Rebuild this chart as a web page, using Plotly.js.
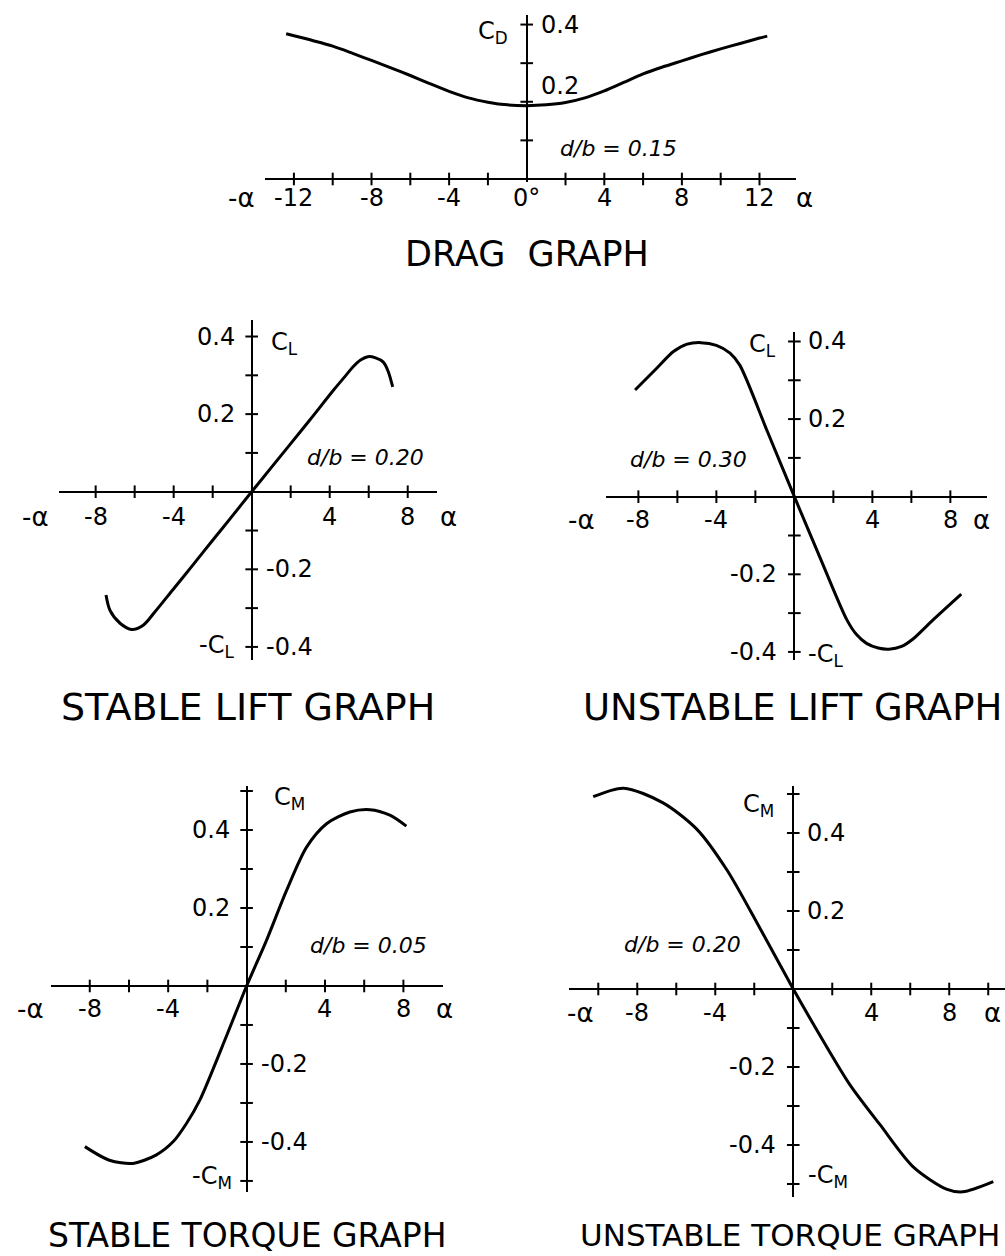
<!DOCTYPE html>
<html>
<head>
<meta charset="utf-8">
<script src="https://cdn.plot.ly/plotly-3.0.1.min.js"></script>
<style>
  html, body { margin: 0; padding: 0; background: #fff; }
  #chart { width: 1005px; height: 1256px; }
</style>
</head>
<body>
<div id="chart"></div>
<script>
// ---- Coefficient curves (angle of attack in degrees) ----
const dragAlpha = [-12.4, -11, -10, -9, -8, -7, -6, -5, -4, -3, -2, -1, 0, 1, 2, 3, 4, 5, 6, 7, 8, 9, 10, 11, 12, 12.4];
const dragCd    = [0.376, 0.358, 0.344, 0.326, 0.307, 0.288, 0.268, 0.247, 0.227, 0.210, 0.199, 0.192, 0.190,
                   0.192, 0.198, 0.210, 0.228, 0.250, 0.272, 0.290, 0.306, 0.322, 0.337, 0.351, 0.365, 0.370];

const stableLiftAlpha = [-7.47, -7.27, -6.75, -6.15, -5.56, -5.0, -4.0, -3.0, -2.0, -1.0, 0, 1.0, 2.0, 3.0, 4.2, 4.8, 5.2, 5.6, 5.95, 6.35, 6.75, 7.0, 7.23];
const stableLiftCl    = [-0.266, -0.305, -0.339, -0.355, -0.344, -0.312, -0.25, -0.188, -0.125, -0.063, 0, 0.062, 0.124, 0.186, 0.262, 0.298, 0.322, 0.34, 0.348, 0.345, 0.334, 0.31, 0.27];

const unstableLiftAlpha = [-8.17, -7.06, -6.2, -5.5, -4.8, -4.0, -3.3, -2.8, -1.4, 0, 1.3, 2.7, 3.2, 3.7, 4.3, 4.85, 5.5, 6.1, 7.1, 8.56];
const unstableLiftCl    = [0.275, 0.331, 0.374, 0.393, 0.397, 0.39, 0.37, 0.339, 0.170, 0, -0.155, -0.318, -0.356, -0.378, -0.39, -0.393, -0.386, -0.366, -0.318, -0.251];

const stableTorqueAlpha = [-8.25, -7.0, -5.8, -4.6, -3.74, -3.06, -2.38, -1.0, 0, 1.0, 2.04, 3.06, 4.08, 5.27, 6.29, 7.31, 8.15];
const stableTorqueCm    = [-0.412, -0.447, -0.455, -0.433, -0.399, -0.352, -0.292, -0.125, 0,
                           0.115, 0.245, 0.356, 0.416, 0.446, 0.452, 0.438, 0.410];

const unstableTorqueAlpha = [-10.26, -8.7, -6.7, -4.95, -3.4, -1.7, 0, 1.5, 2.9, 4.45, 6.15, 7.85, 8.7, 10.26];
const unstableTorqueCm    = [0.493, 0.515, 0.478, 0.410, 0.305, 0.155, 0,
                             -0.130, -0.245, -0.348, -0.456, -0.513, -0.520, -0.494];

// ---- Tick marks and tick labels ----
const dragXTicks = [-12, -10, -8, -6, -4, -2, 2, 4, 6, 8, 10, 12];
const dragYTicks = [0.1, 0.2, 0.3, 0.4];
const dragXLabelVals = [-12, -8, -4, 0, 4, 8, 12];
const dragXLabelText = ['-12', '-8', '-4', '0°', '4', '8', '12'];
const dragYLabelVals = [0.4, 0.2];
const dragYLabelText = ['0.4', '0.2'];

const liftXTicks = [-8, -6, -4, -2, 2, 4, 6, 8];
const liftYTicks = [-0.4, -0.3, -0.2, -0.1, 0.1, 0.2, 0.3, 0.4];
const torqueXTicks = [-8, -6, -4, -2, 2, 4, 6, 8];
const wideTorqueXTicks = [-10, -8, -6, -4, -2, 2, 4, 6, 8, 10];
const torqueYTicks = [-0.5, -0.4, -0.3, -0.2, -0.1, 0.1, 0.2, 0.3, 0.4, 0.5];

const xLabelVals = [-8, -4, 4, 8];
const xLabelText = ['-8', '-4', '4', '8'];
const yLabelVals = [0.4, 0.2, -0.2, -0.4];
const yLabelText = ['0.4', '0.2', '-0.2', '-0.4'];

const titles = ['DRAG\u00A0 GRAPH', 'STABLE LIFT GRAPH', 'UNSTABLE LIFT GRAPH', 'STABLE TORQUE GRAPH', 'UNSTABLE TORQUE GRAPH'];

// ---- Styling ----
const INK = '#000';
const FONT = 'DejaVu Sans, Liberation Sans, sans-serif';
const W = 1005, H = 1256;

// Each panel: axes cross at the origin; the plot box spans exactly the drawn axis lines.
// Entries in `extra` marked `free` sit past the axis ends and are placed in paper space.
const panels = [
  { alpha: dragAlpha, coef: dragCd, xTicks: dragXTicks, yTicks: dragYTicks,
    xLab: [dragXLabelVals, dragXLabelText], yLab: [dragYLabelVals, dragYLabelText],
    ySide: ['R', 'R'], yDy: [0, 16], drop: 19,
    domainX: [0.2637, 0.7920], domainY: [0.8551, 0.9881], rangeX: [-13.49, 13.88], rangeY: [-0.0078, 0.4249],
    extra: [
      { text: 'C<sub>D</sub>', x: 0, y: 0.38, xanchor: 'right', xshift: -17 },
      { text: '<i>d/b = 0.15</i>', x: 1.6, y: 0.08, xanchor: 'left', size: 22 },
      { text: '-α', x: -14.7, y: 0, yshift: -19, size: 26, free: true },
      { text: 'α', x: 14.3, y: 0, yshift: -19, size: 26, free: true } ],
    title: { text: titles[0], x: 527, y: 254, size: 35 } },

  { alpha: stableLiftAlpha, coef: stableLiftCl, xTicks: liftXTicks, yTicks: liftYTicks,
    xLab: [xLabelVals, xLabelText], yLab: [yLabelVals, yLabelText],
    ySide: ['L', 'L', 'R', 'R'], yDy: [0, 0, 0, 0], drop: 25,
    domainX: [0.0587, 0.4348], domainY: [0.4745, 0.7452], rangeX: [-9.88, 9.50], rangeY: [-0.4338, 0.4425],
    extra: [
      { text: 'C<sub>L</sub>', x: 0, y: 0.383, xanchor: 'left', xshift: 17 },
      { text: '-C<sub>L</sub>', x: 0, y: -0.4, xanchor: 'right', xshift: -16 },
      { text: '<i>d/b = 0.20</i>', x: 2.73, y: 0.087, xanchor: 'left', size: 22 },
      { text: '-α', x: -11.1, y: 0, yshift: -25, size: 26, free: true },
      { text: 'α', x: 10.1, y: 0, yshift: -25, size: 26, free: true } ],
    title: { text: titles[1], x: 248, y: 707, size: 38 } },

  { alpha: unstableLiftAlpha, coef: unstableLiftCl, xTicks: liftXTicks, yTicks: liftYTicks,
    xLab: [xLabelVals, xLabelText], yLab: [yLabelVals, yLabelText],
    ySide: ['R', 'R', 'L', 'L'], yDy: [0, 0, 0, 0], drop: 23,
    domainX: [0.6030, 0.9821], domainY: [0.4745, 0.7357], rangeX: [-9.66, 9.88], rangeY: [-0.4209, 0.4245],
    extra: [
      { text: 'C<sub>L</sub>', x: 0, y: 0.39, xanchor: 'right', xshift: -16 },
      { text: '-C<sub>L</sub>', x: 0, y: -0.41, xanchor: 'left', xshift: 12 },
      { text: '<i>d/b = 0.30</i>', x: -8.53, y: 0.095, xanchor: 'left', size: 22 },
      { text: '-α', x: -10.9, y: 0, yshift: -23, size: 26, free: true },
      { text: 'α', x: 9.6, y: 0, yshift: -23, size: 26 } ],
    title: { text: titles[2], x: 792, y: 707, size: 37 } },

  { alpha: stableTorqueAlpha, coef: stableTorqueCm, xTicks: torqueXTicks, yTicks: torqueYTicks,
    xLab: [xLabelVals, xLabelText], yLab: [yLabelVals, yLabelText],
    ySide: ['L', 'L', 'R', 'R'], yDy: [0, 0, 0, 0], drop: 23,
    domainX: [0.0507, 0.4408], domainY: [0.0510, 0.3742], rangeX: [-9.98, 10.02], rangeY: [-0.5282, 0.5128],
    extra: [
      { text: 'C<sub>M</sub>', x: 0, y: 0.48, xanchor: 'left', xshift: 25 },
      { text: '-C<sub>M</sub>', x: 0, y: -0.49, xanchor: 'right', xshift: -13 },
      { text: '<i>d/b = 0.05</i>', x: 3.13, y: 0.105, xanchor: 'left', size: 22 },
      { text: '-α', x: -11.0, y: 0, yshift: -23, size: 26, free: true },
      { text: 'α', x: 10.1, y: 0, yshift: -23, size: 26, free: true } ],
    title: { text: titles[3], x: 247, y: 1235, size: 33 } },

  { alpha: unstableTorqueAlpha, coef: unstableTorqueCm, xTicks: wideTorqueXTicks, yTicks: torqueYTicks,
    xLab: [xLabelVals, xLabelText], yLab: [yLabelVals, yLabelText],
    ySide: ['R', 'R', 'L', 'L'], yDy: [0, 0, 0, 0], drop: 24,
    domainX: [0.5662, 1.0], domainY: [0.0470, 0.3742], rangeX: [-11.50, 10.86], rangeY: [-0.5333, 0.5205],
    extra: [
      { text: 'C<sub>M</sub>', x: 0, y: 0.47, xanchor: 'right', xshift: -17 },
      { text: '-C<sub>M</sub>', x: 0, y: -0.48, xanchor: 'left', xshift: 13 },
      { text: '<i>d/b = 0.20</i>', x: -8.78, y: 0.113, xanchor: 'left', size: 22 },
      { text: '-α', x: -10.9, y: 0, yshift: -24, size: 26 },
      { text: 'α', x: 10.2, y: 0, yshift: -24, size: 26 } ],
    title: { text: titles[4], x: 578, y: 1235, size: 31, xanchor: 'left' } }
];

// data value -> paper fraction for a panel
function toPaper(p, x, y) {
  const fx = (x - p.rangeX[0]) / (p.rangeX[1] - p.rangeX[0]);
  const fy = (y - p.rangeY[0]) / (p.rangeY[1] - p.rangeY[0]);
  return [p.domainX[0] + fx * (p.domainX[1] - p.domainX[0]),
          p.domainY[0] + fy * (p.domainY[1] - p.domainY[0])];
}

const traces = [];
const annotations = [];
const layout = {
  width: W, height: H,
  margin: { l: 0, r: 0, t: 0, b: 0 },
  paper_bgcolor: '#fff', plot_bgcolor: 'rgba(0,0,0,0)',
  showlegend: false,
  font: { family: FONT, color: INK, size: 24 },
  annotations: annotations
};

panels.forEach((p, i) => {
  const n = i === 0 ? '' : String(i + 1);
  const xa = 'x' + n, ya = 'y' + n;

  const axisBase = { showgrid: false, showticklabels: false, ticks: '', showline: false,
                     zeroline: true, zerolinecolor: INK, zerolinewidth: 2, fixedrange: true };
  layout['xaxis' + n] = Object.assign({}, axisBase, { domain: p.domainX, range: p.rangeX, anchor: ya });
  layout['yaxis' + n] = Object.assign({}, axisBase, { domain: p.domainY, range: p.rangeY, anchor: xa });

  // the coefficient curve
  traces.push({ type: 'scatter', mode: 'lines', x: p.alpha, y: p.coef, xaxis: xa, yaxis: ya,
                line: { color: INK, width: 3, shape: 'spline', smoothing: 0.8 }, hoverinfo: 'skip' });

  // tick marks crossing both axes
  traces.push({ type: 'scatter', mode: 'markers', x: p.xTicks, y: p.xTicks.map(() => 0), xaxis: xa, yaxis: ya,
                cliponaxis: false, hoverinfo: 'skip',
                marker: { symbol: 'line-ns', size: 9, color: INK, line: { color: INK, width: 2 } } });
  traces.push({ type: 'scatter', mode: 'markers', x: p.yTicks.map(() => 0), y: p.yTicks, xaxis: xa, yaxis: ya,
                cliponaxis: false, hoverinfo: 'skip',
                marker: { symbol: 'line-ew', size: 9, color: INK, line: { color: INK, width: 2 } } });

  const base = { xref: xa, yref: ya, showarrow: false, yanchor: 'middle', xanchor: 'center' };

  // angle labels under the horizontal axis
  p.xLab[0].forEach((v, k) => {
    annotations.push(Object.assign({}, base, { x: v, y: 0, text: p.xLab[1][k], yshift: -p.drop,
                                               font: { family: FONT, size: 24, color: INK } }));
  });

  // coefficient labels beside the vertical axis
  p.yLab[0].forEach((v, k) => {
    const right = p.ySide[k] === 'R';
    annotations.push(Object.assign({}, base, { x: 0, y: v, text: p.yLab[1][k],
      xanchor: right ? 'left' : 'right', xshift: right ? 12 : -15, yshift: p.yDy[k],
      font: { family: FONT, size: 24, color: INK } }));
  });

  // axis names and d/b notes
  p.extra.forEach(e => {
    const a = Object.assign({}, base, {
      x: e.x, y: e.y, text: e.text, xanchor: e.xanchor || 'center',
      xshift: e.xshift || 0, yshift: e.yshift || 0,
      font: { family: FONT, size: e.size || 24, color: INK } });
    if (e.free) {
      const pp = toPaper(p, e.x, e.y);
      a.xref = 'paper'; a.yref = 'paper'; a.x = pp[0]; a.y = pp[1];
    }
    annotations.push(a);
  });

  // graph caption
  annotations.push({ xref: 'paper', yref: 'paper', x: p.title.x / W, y: 1 - p.title.y / H,
                     text: p.title.text, showarrow: false, xanchor: p.title.xanchor || 'center', yanchor: 'middle',
                     font: { family: FONT, size: p.title.size, color: INK } });
});

Plotly.newPlot('chart', traces, layout, { staticPlot: true, displayModeBar: false });
</script>
</body>
</html>
